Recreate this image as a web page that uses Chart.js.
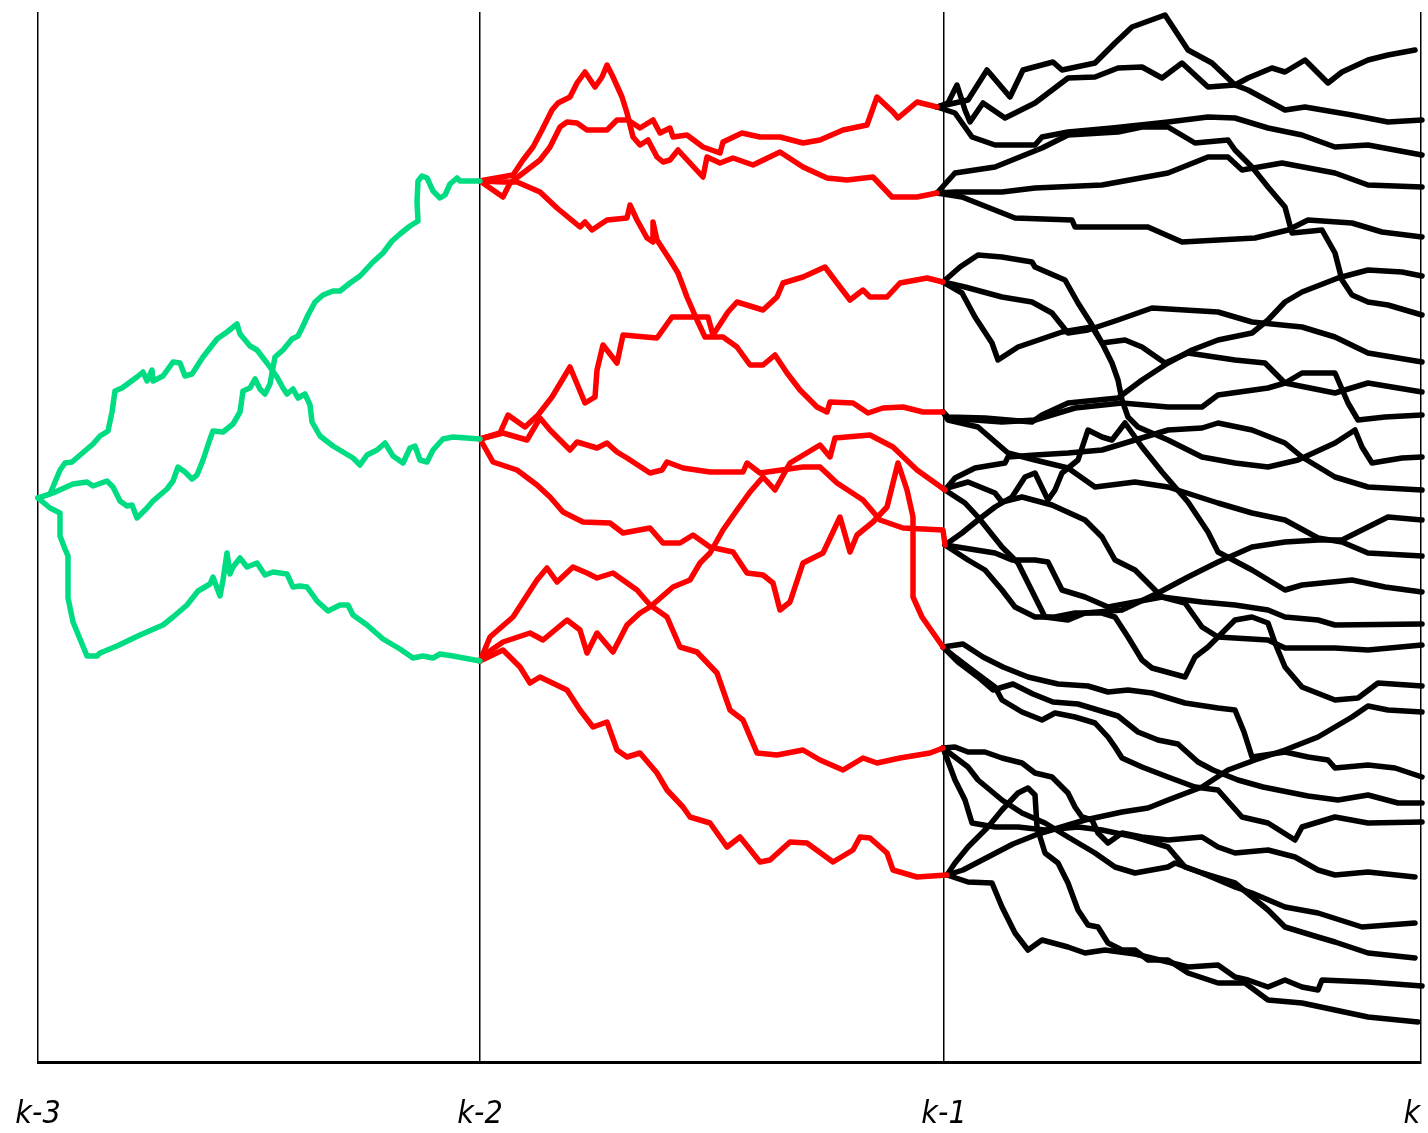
<!DOCTYPE html>
<html><head><meta charset="utf-8">
<script src="https://cdn.jsdelivr.net/npm/chart.js@4/dist/chart.umd.min.js"></script>
<style>html,body{margin:0;padding:0;background:#fff;}#wrap{width:1428px;height:1133px;}</style>
</head><body><div id="wrap"><canvas id="c" width="1428" height="1133"></canvas></div>
<script>
// time axis: step boundaries and their labels
const stepLabels = ['k-3', 'k-2', 'k-1', 'k\u00a0\u00a0'];
const stepTimes = [0, 442, 906, 1383];

// green paths (k-3 -> k-2): [time, value]
const green1 = [[0,564],[15,569],[35,578],[49,580],[55,576],[69,581],[75,575],[82,561],[89,556],[94,557],[99,544],[109,554],[115,561],[129,573],[135,581],[140,595],[147,590],[154,583],[159,587],[165,602],[172,623],[175,631],[185,630],[195,638],[202,650],[205,671],[212,674],[217,683],[222,673],[227,668],[232,678],[237,705],[245,712],[254,723],[260,726],[265,736],[270,747],[277,760],[285,767],[295,771],[302,771],[312,779],[322,786],[335,800],[345,809],[354,821],[362,828],[372,836],[380,841],[379,860],[380,881],[384,886],[389,884],[395,871],[402,864],[407,867],[412,878],[419,884],[422,881],[442,881]];
const green2 = [[0,564],[12,568],[22,592],[27,599],[34,600],[55,618],[62,626],[70,631],[74,650],[77,671],[84,674],[99,685],[105,690],[109,681],[114,692],[115,681],[125,686],[135,700],[142,699],[147,686],[154,688],[165,705],[179,723],[189,730],[199,738],[202,728],[212,716],[219,712],[229,699],[239,685],[245,674],[249,668],[255,673],[260,664],[267,668],[272,657],[274,640],[282,626],[295,616],[315,604],[322,597],[329,607],[339,612],[347,619],[355,606],[365,599],[372,614],[377,616],[382,602],[389,600],[395,612],[405,623],[415,625],[442,623]];
const green3 = [[0,564],[12,554],[22,549],[22,526],[27,513],[30,506],[30,464],[35,440],[42,423],[49,406],[59,406],[62,409],[79,416],[102,427],[125,437],[135,445],[149,457],[160,471],[172,478],[175,485],[182,466],[185,482],[189,509],[192,488],[195,495],[202,504],[209,495],[219,499],[227,487],[235,490],[249,488],[255,475],[262,476],[269,475],[279,461],[290,451],[302,457],[310,457],[315,447],[329,437],[345,423],[362,413],[375,404],[385,406],[395,404],[402,408],[415,406],[442,401]];

// red paths (k-2 -> k-1)
const red1 = [[447,882],[475,887],[485,902],[495,915],[504,932],[514,952],[520,959],[532,965],[539,979],[547,990],[557,975],[564,985],[569,997],[575,985],[584,965],[589,949],[595,925],[602,917],[610,922],[619,905],[625,900],[632,902],[640,912],[652,899],[665,885],[669,905],[682,899],[695,904],[715,897],[742,910],[765,895],[789,884],[809,882],[835,885],[854,865],[879,865],[899,869]];
const red2 = [[465,865],[472,879],[489,892],[502,902],[512,915],[522,935],[529,940],[539,939],[549,932],[569,932],[579,942],[590,942],[602,934],[615,942],[622,929],[632,934],[635,925],[649,927],[665,915],[682,909],[685,920],[704,929],[722,925],[742,925],[765,919],[782,922],[805,932],[829,937],[839,965],[855,950],[860,944],[879,960],[899,955]];
const red3 = [[465,880],[479,880],[502,870],[519,854],[542,835],[547,840],[554,832],[569,842],[589,844],[592,857],[599,842],[609,824],[615,820],[615,840],[619,822],[632,802],[640,789],[649,765],[659,742],[667,725],[685,725],[699,715],[712,697],[725,697],[737,707],[749,689],[762,672],[779,655],[789,650],[792,660],[815,659],[830,649],[845,654],[865,655],[885,650],[905,650]];
const red4 = [[462,629],[470,647],[487,635],[500,647],[514,665],[532,695],[547,659],[557,665],[559,692],[565,717],[579,699],[585,727],[619,724],[634,745],[670,745],[675,727],[690,750],[699,760],[725,752],[739,765],[745,779],[765,785],[787,795],[799,779],[812,762],[825,772],[832,765],[849,765],[862,779],[889,784],[905,780]];
const red5 = [[465,629],[489,622],[502,644],[512,632],[532,612],[539,620],[559,614],[569,619],[579,610],[589,604],[612,589],[624,592],[629,600],[645,594],[672,590],[705,590],[709,599],[722,589],[765,595],[782,595],[799,579],[825,562],[842,542],[865,534],[905,532],[907,517]];
const red6 = [[455,600],[479,592],[499,577],[512,565],[525,550],[545,540],[572,539],[585,529],[612,534],[625,519],[642,519],[655,527],[672,515],[695,510],[709,489],[725,487],[735,479],[742,452],[752,460],[765,499],[785,509],[802,545],[812,510],[819,527],[835,540],[849,555],[860,599],[869,572],[875,545],[875,465],[884,445],[905,415]];
const red7 = [[449,409],[465,420],[492,429],[505,422],[529,442],[542,432],[549,409],[559,429],[575,410],[589,437],[602,449],[612,455],[635,475],[652,482],[662,499],[672,509],[685,532],[699,552],[712,570],[725,585],[737,572],[752,599],[782,617],[792,605],[797,624],[832,627],[855,615],[879,592],[907,572]];
const red8 = [[452,425],[475,445],[499,482],[509,494],[519,480],[535,495],[549,489],[559,484],[575,489],[599,472],[612,457],[629,445],[642,415],[659,410],[679,389],[692,352],[705,342],[719,309],[739,307],[765,312],[782,302],[805,292],[825,304],[839,299],[862,304],[892,309],[905,314]];
const red9 = [[465,412],[482,395],[492,379],[502,385],[529,372],[542,352],[555,335],[569,340],[579,312],[589,305],[602,309],[619,289],[629,272],[645,255],[652,245],[672,239],[689,215],[702,225],[722,200],[732,202],[752,220],[769,219],[795,200],[815,212],[822,225],[832,224],[849,209],[855,192],[879,185],[909,187]];

// black paths (k-1 -> k)
const black1 = [[910,959],[919,977],[927,952],[932,940],[945,959],[967,944],[997,959],[1030,984],[1057,985],[1080,994],[1104,995],[1124,984],[1144,999],[1170,975],[1197,977],[1210,984],[1234,994],[1247,990],[1267,1002],[1290,979],[1304,990],[1330,1002],[1350,1007],[1377,1012]];
const black2 = [[930,962],[949,992],[972,965],[985,992],[1015,1000],[1024,992],[1057,999],[1077,1019],[1094,1035],[1127,1047],[1150,1012],[1174,999],[1197,977],[1210,972],[1247,952],[1267,955],[1314,947],[1350,940],[1384,942]];
const black3 = [[917,949],[934,925],[957,917],[997,917],[1004,925],[1030,930],[1074,934],[1130,940],[1170,945],[1197,944],[1230,934],[1264,927],[1297,915],[1330,917],[1384,907]];
const black4 = [[917,870],[964,870],[997,874],[1064,877],[1130,889],[1170,905],[1190,905],[1204,892],[1244,899],[1297,889],[1330,877],[1384,875]];
const black5 = [[924,865],[977,844],[1034,842],[1037,835],[1110,835],[1144,820],[1217,824],[1250,832],[1270,842],[1314,839],[1344,830],[1384,825]];
const black6 = [[917,889],[957,895],[1004,914],[1030,927],[1080,930],[1104,935],[1130,935],[1157,919],[1190,922],[1197,912],[1214,895],[1230,875],[1247,855],[1254,829],[1284,832],[1297,809],[1304,782],[1314,767],[1330,760],[1350,757],[1384,747]];
const black7 = [[922,795],[940,807],[964,805],[994,800],[997,795],[1027,782],[1040,759],[1054,737],[1064,719],[1074,699],[1080,682],[1084,662],[1090,645],[1100,635],[1130,622],[1164,605],[1197,599],[1230,595],[1260,602],[1297,619],[1317,632],[1324,615],[1334,599],[1364,604],[1384,605]];
const black8 = [[927,775],[964,765],[994,760],[1014,749],[1030,729],[1050,732],[1080,742],[1114,754],[1147,752],[1180,750],[1214,740],[1264,735],[1297,725],[1330,709],[1384,700]];
const black9 = [[924,769],[937,745],[954,719],[960,702],[980,715],[1024,730],[1054,735],[1064,719],[1087,722],[1104,715],[1127,699],[1150,709],[1197,702],[1227,699],[1247,679],[1297,669],[1330,679],[1384,670]];
const black10 = [[910,645],[947,644],[994,640],[1004,647],[1030,659],[1080,664],[1104,682],[1130,699],[1154,712],[1180,722],[1214,729],[1230,742],[1247,760],[1264,770],[1300,784],[1330,792],[1364,790],[1384,786]];
const black11 = [[910,644],[964,640],[997,642],[1037,654],[1084,659],[1130,655],[1164,655],[1180,667],[1230,674],[1247,679],[1264,689],[1297,689],[1310,659],[1320,642],[1347,645],[1384,647]];
const black12 = [[910,642],[940,635],[970,609],[997,602],[1030,594],[1057,575],[1097,580],[1130,575],[1180,559],[1214,549],[1247,542],[1280,524],[1304,520],[1330,509],[1384,506]];
const black13 = [[909,574],[930,580],[957,569],[964,560],[984,565],[1014,557],[1047,542],[1064,525],[1077,502],[1097,492],[1110,479],[1124,465],[1147,459],[1164,435],[1180,425],[1230,422],[1247,414],[1297,414],[1330,412],[1384,417]];
const black14 = [[927,559],[940,545],[964,515],[980,499],[990,479],[997,465],[1007,445],[1030,442],[1047,449],[1084,452],[1120,469],[1150,485],[1180,500],[1214,515],[1247,520],[1280,522],[1304,522],[1330,535],[1350,545],[1384,542]];
const black15 = [[917,584],[937,594],[967,599],[970,605],[997,607],[1030,609],[1064,612],[1097,622],[1130,632],[1164,634],[1180,639],[1214,632],[1247,619],[1264,605],[1297,585],[1330,575],[1384,572]];
const black16 = [[924,529],[940,542],[957,555],[974,565],[987,585],[997,589],[1010,562],[1017,572],[1024,589],[1040,602],[1050,632],[1064,625],[1074,622],[1087,639],[1104,615],[1124,590],[1150,560],[1170,530],[1180,510],[1214,492],[1247,472],[1264,477],[1314,482],[1347,475],[1384,470]];
const black17 = [[957,509],[974,502],[997,502],[1010,500],[1024,472],[1047,465],[1070,455],[1097,460],[1124,465],[1164,460],[1197,457],[1230,452],[1247,445],[1280,442],[1297,437],[1384,438]];
const black18 = [[930,502],[947,492],[964,472],[977,455],[997,445],[1017,445],[1037,449],[1064,449],[1077,445],[1090,425],[1104,402],[1114,394],[1147,385],[1157,405],[1170,415],[1197,442],[1214,445],[1230,439],[1237,419],[1247,395],[1264,375],[1297,362],[1320,364],[1340,379],[1384,376]];
const black19 = [[917,405],[934,392],[957,375],[964,362],[984,350],[1004,342],[1017,349],[1037,345],[1057,339],[1070,325],[1077,315],[1084,304],[1104,295],[1130,285],[1157,275],[1180,272],[1204,245],[1230,239],[1257,222],[1264,235],[1297,245],[1330,239],[1384,240]];
const black20 = [[925,418],[945,405],[965,395],[990,385],[1020,378],[1050,376],[1070,370],[1090,372],[1114,369],[1147,359],[1180,354],[1197,352],[1206,330],[1214,305],[1247,310],[1270,305],[1290,302],[1297,294],[1330,297],[1357,294],[1384,285]];
const black21 = [[925,192],[950,205],[975,218],[1000,228],[1047,242],[1084,250],[1110,254],[1130,262],[1164,275],[1190,292],[1217,302],[1247,312],[1280,325],[1314,345],[1330,356],[1350,352],[1384,350]];
const black22 = [[920,400],[940,385],[955,372],[975,378],[995,368],[1015,360],[1040,358],[1060,352],[1080,346],[1100,330],[1120,322],[1140,318],[1160,300],[1175,292],[1190,286],[1200,282],[1225,275],[1250,270],[1270,266],[1300,262],[1330,267],[1360,259],[1384,259]];
const black23 = [[917,315],[930,310],[947,310],[964,304],[984,299],[997,289],[1014,285],[1030,269],[1037,255],[1044,245],[1054,242],[1060,229],[1070,219],[1084,229],[1104,225],[1130,222],[1164,225],[1180,215],[1197,209],[1230,212],[1257,205],[1280,192],[1297,187],[1330,190],[1377,185]];
const black24 = [[917,282],[927,262],[934,239],[957,235],[980,235],[1007,232],[1040,235],[1064,232],[1097,225],[1130,215],[1147,195],[1164,189],[1197,175],[1214,169],[1247,155],[1280,149],[1324,135],[1377,139]];
const black25 = [[930,295],[940,282],[964,262],[984,249],[1007,239],[1030,225],[1057,209],[1077,195],[1097,189],[1130,195],[1137,199],[1164,189],[1197,179],[1230,152],[1247,135],[1280,125],[1297,120],[1330,109],[1377,104]];
const black26 = [[917,199],[930,215],[950,235],[964,252],[980,269],[990,274],[997,267],[999,235],[1007,209],[1020,199],[1030,179],[1040,152],[1050,137],[1060,135],[1070,119],[1084,112],[1097,112],[1110,102],[1130,102],[1150,89],[1180,79],[1207,79],[1230,62],[1264,59],[1297,52],[1330,45],[1380,40]];
const black27 = [[930,180],[954,179],[964,155],[977,129],[990,112],[1004,122],[1030,115],[1047,109],[1067,112],[1097,108],[1130,100],[1150,95],[1180,97],[1197,85],[1210,82],[1230,75],[1247,82],[1264,75],[1280,72],[1284,82],[1330,80],[1384,76]];

const greenPaths = [green1, green2, green3];
const redPaths = [red1, red2, red3, red4, red5, red6, red7, red8, red9];
const redParent = [0, 0, 0, 1, 1, 1, 2, 2, 2];
const blackPaths = [black1, black2, black3, black4, black5, black6, black7, black8, black9, black10, black11, black12, black13, black14, black15, black16, black17, black18, black19, black20, black21, black22, black23, black24, black25, black26, black27];
const blackParent = [1, 1, 1, 0, 0, 0, 3, 3, 3, 2, 2, 2, 6, 6, 6, 4, 4, 4, 5, 5, 8, 5, 7, 7, 7, 8, 8];

function toPoints(path, start) {
  const pts = start ? [start].concat(path) : path;
  return pts.map(p => ({ x: p[0], y: p[1] }));
}
function lineSet(data, color) {
  return { data, showLine: true, borderColor: color, backgroundColor: color, borderWidth: 5.5,
           pointRadius: 0, pointHoverRadius: 0, tension: 0, borderJoinStyle: 'round',
           borderCapStyle: 'round', clip: 12 };
}
const GREEN = '#00dc82', RED = '#ff0000', BLACK = '#000000';
const datasets = [];
greenPaths.forEach(p => datasets.push(lineSet(toPoints(p), GREEN)));
redPaths.forEach((p, i) => { const par = greenPaths[redParent[i]]; datasets.push(lineSet(toPoints(p, par[par.length - 1]), RED)); });
blackPaths.forEach((p, i) => { const par = redPaths[blackParent[i]]; datasets.push(lineSet(toPoints(p, par[par.length - 1]), BLACK)); });

new Chart(document.getElementById('c'), {
  type: 'scatter',
  data: { datasets },
  options: {
    responsive: false, animation: false, events: [],
    layout: { autoPadding: false, padding: { left: 38, right: 7, top: 12, bottom: 0 } },
    plugins: { legend: { display: false }, tooltip: { enabled: false }, title: { display: false } },
    scales: {
      x: {
        type: 'linear', min: stepTimes[0], max: stepTimes[stepTimes.length - 1],
        afterBuildTicks: s => { s.ticks = stepTimes.map(v => ({ value: v })); },
        afterFit: s => { s.height = 71; s.paddingLeft = 0; s.paddingRight = 0; },
        ticks: {
          autoSkip: false, maxRotation: 0, padding: 33, color: '#000',
          font: { family: "'Liberation Sans Narrow', 'DejaVu Sans Condensed', sans-serif", size: 32, style: 'italic' },
          callback: v => { const i = stepTimes.indexOf(v); return i >= 0 ? stepLabels[i] : ''; }
        },
        grid: { color: '#000', lineWidth: 1.5, drawTicks: false },
        border: { display: true, color: '#000', width: 3 }
      },
      y: { display: false, min: 0, max: 1050 }
    }
  }
});
</script></body></html>
